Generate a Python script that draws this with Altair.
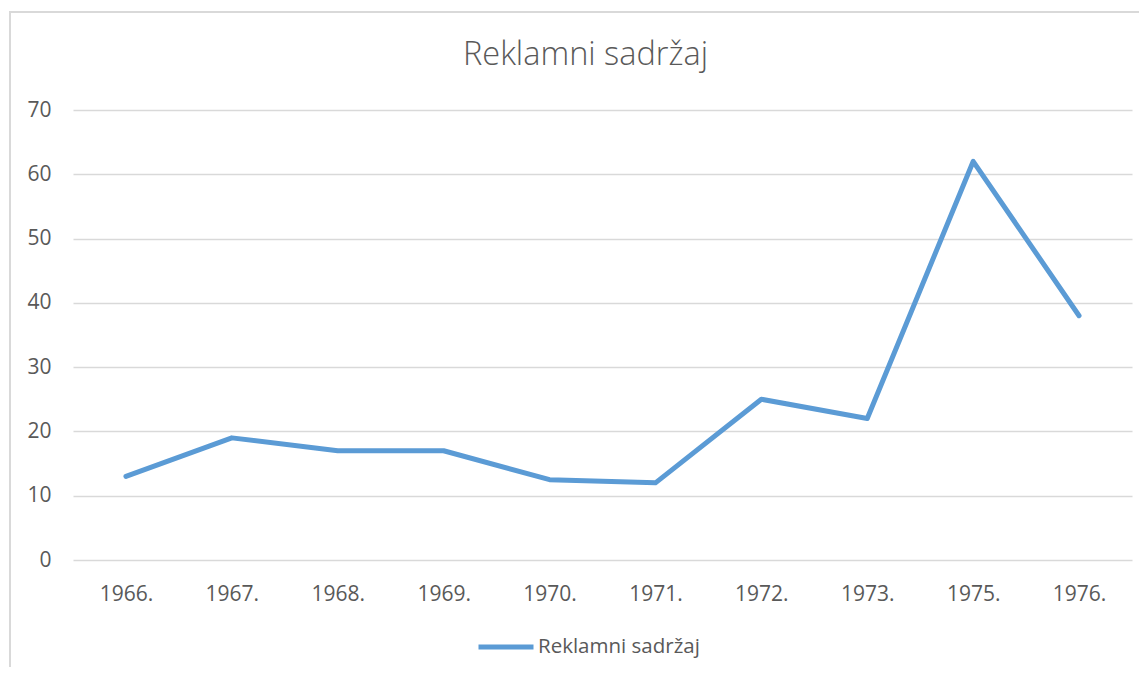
import altair as alt
import pandas as pd

years = ["1966.", "1967.", "1968.", "1969.", "1970.", "1971.", "1972.", "1973.", "1975.", "1976."]
values = [13, 19, 17, 17, 12.5, 12, 25, 22, 62, 38]
series = ["Reklamni sadržaj"] * len(years)

df = pd.DataFrame({"godina": years, "vrijednost": values, "serija": series})

FONT = "Open Sans"
TXT = "#595959"
W, H = 1059, 450

line = alt.Chart(df).mark_line(strokeWidth=5, strokeCap="round", strokeJoin="round").encode(
    x=alt.X("godina:N", sort=None, title=None,
            scale=alt.Scale(type="point", padding=0.5),
            axis=alt.Axis(labelAngle=0, ticks=False, tickSize=0, domain=False, grid=False,
                          labelPadding=23, labelFont=FONT, labelFontSize=21, labelColor=TXT)),
    y=alt.Y("vrijednost:Q", title=None,
            scale=alt.Scale(domain=[0, 70], nice=False),
            axis=alt.Axis(values=[0, 10, 20, 30, 40, 50, 60, 70], ticks=False, tickSize=0, domain=False,
                          grid=True, gridColor="#D9D9D9", gridWidth=1.5,
                          labelPadding=22, labelFont=FONT, labelFontSize=21, labelColor=TXT)),
    color=alt.Color("serija:N", title=None,
                    scale=alt.Scale(range=["#5B9BD5"]),
                    legend=alt.Legend(orient="none", legendX=403, legendY=507, padding=0,
                                      symbolType="stroke", symbolSize=3025, symbolStrokeWidth=5,
                                      labelFont=FONT, labelFontSize=20.5, labelColor=TXT, labelOffset=2,
                                      labelLimit=400)),
)

frame = alt.Chart(df).mark_rect(fill=None, stroke="#D9D9D9", strokeWidth=1.5).encode(
    x=alt.value(-63), x2=alt.value(W + 200), y=alt.value(-98), y2=alt.value(H + 200)
)

chart = alt.layer(frame, line).properties(
    width=W, height=H,
    padding={"left": 65, "top": 102, "right": 7, "bottom": 107},
    autosize=alt.AutoSizeParams(type="none"),
    title=alt.TitleParams("Reklamni sadržaj", font=FONT, fontSize=32.5, fontWeight=300, color=TXT,
                          anchor="middle", baseline="alphabetic", dx=-17, dy=86, offset=0),
).configure_view(stroke=None)

chart.save("out.html", embed_options={"renderer": "svg", "actions": False})
